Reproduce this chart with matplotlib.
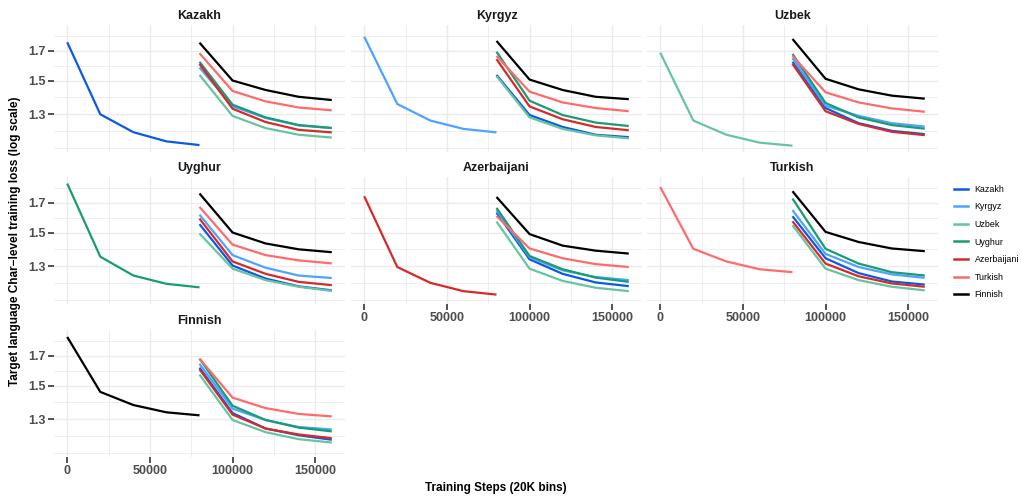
import numpy as np
import matplotlib
matplotlib.use("Agg")
import matplotlib.pyplot as plt
from matplotlib.lines import Line2D
from matplotlib.ticker import NullFormatter

plt.rcParams['font.family'] = ['Liberation Sans', 'DejaVu Sans']

# languages and colours (legend order)
languages = ['Kazakh', 'Kyrgyz', 'Uzbek', 'Uyghur', 'Azerbaijani', 'Turkish', 'Finnish']
colors = ['#0A5AE6', '#4DA3FF', '#66C4A0', '#1A9C73', '#D62A2A', '#FF6B6B', '#000000']

pre_steps = [0, 20000, 40000, 60000, 80000]
ft_steps = [80000, 100000, 120000, 140000, 160000]

# source-language training curves
pre_kazakh = [1.764, 1.300, 1.205, 1.159, 1.141]
pre_kyrgyz = [1.806, 1.358, 1.266, 1.222, 1.204]
pre_uzbek = [1.688, 1.266, 1.192, 1.153, 1.138]
pre_uyghur = [1.846, 1.354, 1.250, 1.207, 1.189]
pre_azerbaijani = [1.749, 1.296, 1.212, 1.170, 1.153]
pre_turkish = [1.819, 1.400, 1.327, 1.284, 1.268]
pre_finnish = [1.843, 1.460, 1.381, 1.339, 1.322]

# target-language curves after the switch, one dict per source panel
ft_kazakh = {
    'Kyrgyz': [1.585, 1.345, 1.280, 1.240, 1.226],
    'Uzbek': [1.536, 1.291, 1.226, 1.192, 1.178],
    'Uyghur': [1.624, 1.354, 1.283, 1.242, 1.227],
    'Azerbaijani': [1.609, 1.331, 1.258, 1.217, 1.204],
    'Turkish': [1.684, 1.435, 1.373, 1.338, 1.322],
    'Finnish': [1.761, 1.500, 1.441, 1.400, 1.381],
}
ft_kyrgyz = {
    'Kazakh': [1.536, 1.296, 1.232, 1.192, 1.180],
    'Uzbek': [1.529, 1.283, 1.222, 1.189, 1.174],
    'Uyghur': [1.695, 1.377, 1.296, 1.255, 1.237],
    'Azerbaijani': [1.642, 1.344, 1.273, 1.232, 1.215],
    'Turkish': [1.665, 1.431, 1.367, 1.335, 1.317],
    'Finnish': [1.774, 1.506, 1.441, 1.400, 1.386],
}
ft_uzbek = {
    'Kazakh': [1.624, 1.335, 1.252, 1.212, 1.195],
    'Kyrgyz': [1.649, 1.348, 1.291, 1.252, 1.234],
    'Uyghur': [1.679, 1.364, 1.283, 1.242, 1.223],
    'Azerbaijani': [1.609, 1.317, 1.248, 1.207, 1.190],
    'Turkish': [1.665, 1.427, 1.367, 1.333, 1.314],
    'Finnish': [1.789, 1.511, 1.445, 1.407, 1.389],
}
ft_uyghur = {
    'Kazakh': [1.554, 1.304, 1.234, 1.194, 1.174],
    'Kyrgyz': [1.618, 1.363, 1.292, 1.250, 1.237],
    'Uzbek': [1.494, 1.287, 1.226, 1.192, 1.171],
    'Azerbaijani': [1.591, 1.327, 1.259, 1.217, 1.200],
    'Turkish': [1.672, 1.425, 1.363, 1.333, 1.316],
    'Finnish': [1.770, 1.500, 1.432, 1.397, 1.380],
}
ft_azerbaijani = {
    'Kazakh': [1.632, 1.339, 1.259, 1.214, 1.195],
    'Kyrgyz': [1.649, 1.351, 1.278, 1.242, 1.226],
    'Uzbek': [1.571, 1.287, 1.222, 1.187, 1.170],
    'Uyghur': [1.665, 1.358, 1.284, 1.239, 1.217],
    'Turkish': [1.609, 1.402, 1.345, 1.312, 1.296],
    'Finnish': [1.744, 1.490, 1.419, 1.389, 1.372],
}
ft_turkish = {
    'Kazakh': [1.607, 1.345, 1.263, 1.219, 1.203],
    'Kyrgyz': [1.649, 1.370, 1.296, 1.256, 1.238],
    'Uzbek': [1.547, 1.287, 1.226, 1.192, 1.174],
    'Uyghur': [1.732, 1.400, 1.315, 1.268, 1.250],
    'Azerbaijani': [1.573, 1.315, 1.246, 1.209, 1.192],
    'Finnish': [1.787, 1.504, 1.441, 1.402, 1.386],
}
ft_finnish = {
    'Kazakh': [1.618, 1.335, 1.250, 1.215, 1.192],
    'Kyrgyz': [1.644, 1.360, 1.296, 1.258, 1.245],
    'Uzbek': [1.571, 1.296, 1.231, 1.195, 1.178],
    'Uyghur': [1.681, 1.377, 1.296, 1.255, 1.235],
    'Azerbaijani': [1.607, 1.326, 1.250, 1.219, 1.200],
    'Turkish': [1.681, 1.425, 1.363, 1.330, 1.316],
}

pre_curves = [pre_kazakh, pre_kyrgyz, pre_uzbek, pre_uyghur, pre_azerbaijani, pre_turkish, pre_finnish]
ft_curves = [ft_kazakh, ft_kyrgyz, ft_uzbek, ft_uyghur, ft_azerbaijani, ft_turkish, ft_finnish]

y_major = [1.3, 1.5, 1.7]
# ggplot-style minor breaks: midpoints in log space incl. extended break below 1.3
lo = np.exp(2 * np.log(1.3) - np.log(1.5))
y_minor = [lo, np.sqrt(lo * 1.3), np.sqrt(1.3 * 1.5), np.sqrt(1.5 * 1.7),
           np.sqrt(1.7 * np.exp(2 * np.log(1.7) - np.log(1.5)))]
x_major = [0, 50000, 100000, 150000]
x_minor = [25000, 75000, 125000]

W, H = 1022, 497
fig = plt.figure(figsize=(W / 100, H / 100), dpi=100)

col_left = [54, 351, 647]
row_top = [25, 177, 330]
pw, ph = 291, 127
grid_col = '#EBEBEB'
tick_col = '#4D4D4D'

for i, lang in enumerate(languages):
    r, c = divmod(i, 3)
    ax = fig.add_axes([col_left[c] / W, 1 - (row_top[r] + ph) / H, pw / W, ph / H])
    ax.set_yscale('log')
    ax.set_xlim(-8000, 168000)
    ax.set_ylim(1.108, 1.898)
    for s in ax.spines.values():
        s.set_visible(False)
    for v in y_major:
        ax.axhline(v, color=grid_col, lw=1.0, zorder=0)
    for v in y_minor:
        ax.axhline(v, color=grid_col, lw=0.6, zorder=0)
    for v in x_major:
        ax.axvline(v, color=grid_col, lw=1.0, zorder=0)
    for v in x_minor:
        ax.axvline(v, color=grid_col, lw=0.6, zorder=0)

    ax.plot(pre_steps, pre_curves[i], color=colors[i], lw=1.6, solid_capstyle='butt')
    for j, other in enumerate(languages):
        if other in ft_curves[i]:
            ax.plot(ft_steps, ft_curves[i][other], color=colors[j], lw=1.6,
                    solid_capstyle='butt')

    ax.set_title(lang, fontsize=9, fontweight='bold', color='#1A1A1A', pad=4)

    ax.set_yticks(y_major)
    ax.set_yticks([], minor=True)
    ax.yaxis.set_minor_formatter(NullFormatter())
    ax.set_xticks(x_major)
    show_y = (c == 0)
    show_x = (r == 2) or (r == 1 and c > 0)
    if show_y:
        ax.set_yticklabels([f'{v:.1f}' for v in y_major])
    ax.tick_params(axis='y', length=4 if show_y else 0, width=1.2, color='#333333',
                   labelleft=show_y, labelsize=9, labelcolor=tick_col, pad=2)
    ax.tick_params(axis='x', length=4 if show_x else 0, width=1.2, color='#333333',
                   labelbottom=show_x, labelsize=9, labelcolor=tick_col, pad=2)
    for lbl in ax.get_xticklabels() + ax.get_yticklabels():
        lbl.set_fontweight('bold')

fig.text(496 / W, 1 - 488 / H, 'Training Steps (20K bins)', ha='center', va='center',
         fontsize=8.5, fontweight='bold')
fig.text(15 / W, 1 - 241 / H, 'Target language Char\u2212level training loss (log scale)',
         ha='center', va='center', rotation=90, fontsize=8.5, fontweight='bold')

handles = [Line2D([0], [0], color=col, lw=1.8) for col in colors]
fig.legend(handles, languages, loc='center left', bbox_to_anchor=(951 / W, 1 - 242 / H),
           frameon=False, fontsize=6.4, handlelength=1.65, handletextpad=0.7,
           labelspacing=0.97, borderaxespad=0, borderpad=0.3)

fig.savefig('out.png', dpi=100)
